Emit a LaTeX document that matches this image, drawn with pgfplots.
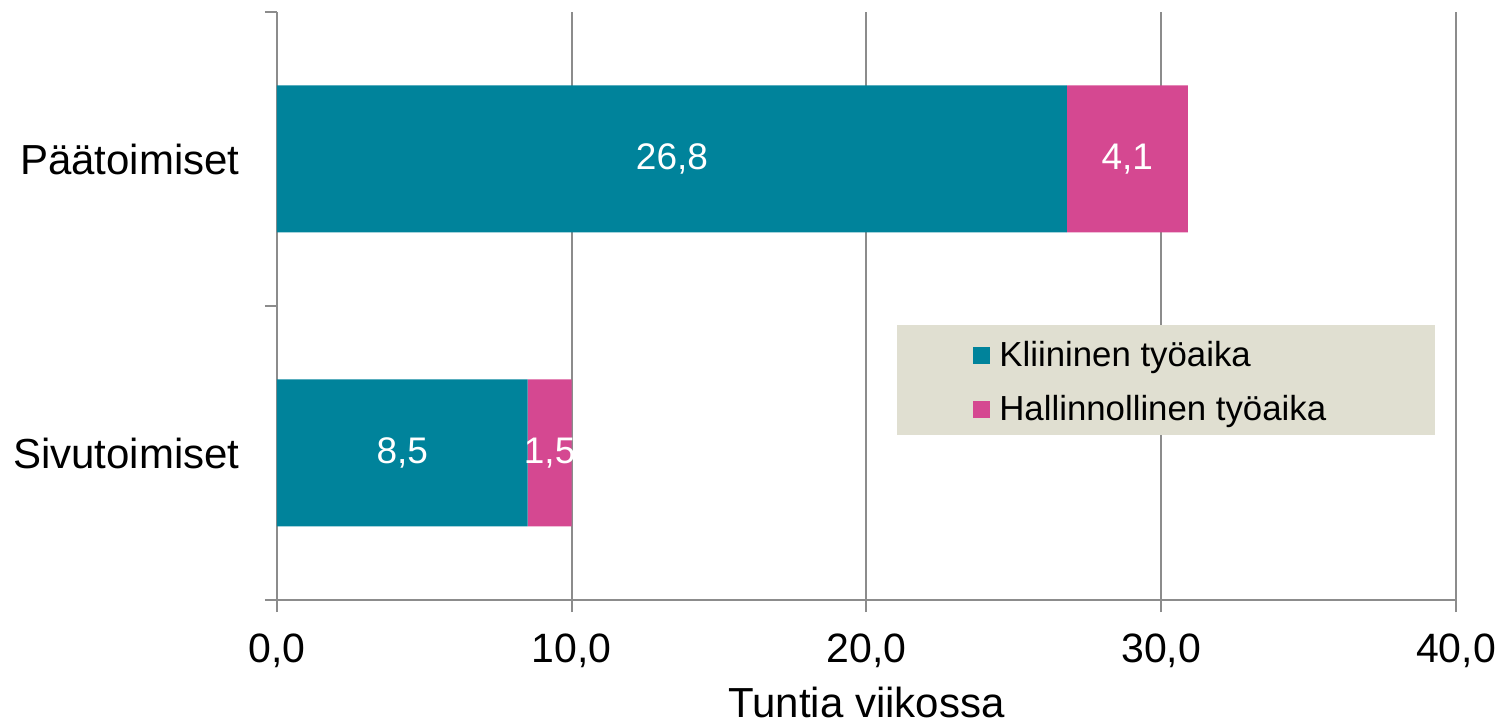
\documentclass[border=0pt]{standalone}
\usepackage{fontspec}
\setmainfont{Liberation Sans}
\usepackage{pgfplots}
\pgfplotsset{compat=1.18}
\usetikzlibrary{calc}
\definecolor{klin}{RGB}{0,131,155}
\definecolor{hall}{RGB}{213,72,145}
\definecolor{legbg}{RGB}{224,223,209}
\definecolor{gridgray}{RGB}{140,140,140}

\pgfplotsset{sqleg/.style={legend image code/.code={\fill[##1] (0bp,-4.25bp) rectangle (8.5bp,4.25bp);}}}

\begin{document}
\begin{tikzpicture}
\begin{axis}[
    name=ax,
    scale only axis,
    width=589.5bp, height=294bp,
    xbar stacked, bar width=0.5,
    xmin=0, xmax=40, ymin=-0.5, ymax=1.5,
    xtick={0,10,20,30,40},
    xticklabel style={yshift=-7.5bp, /pgf/number format/.cd, fixed, fixed zerofill, precision=1, use comma, assume math mode=true},
    xmajorgrids, grid style={gridgray, line width=1bp},
    axis x line*=bottom, axis y line*=left,
    axis line style={gridgray, line width=1bp, -},
    tick style={gridgray, line width=1bp},
    tick align=outside, major tick length=6bp,
    ytick={-0.5,0.5,1.5}, yticklabels={},
    extra y ticks={0,1}, extra y tick labels={Sivutoimiset, Päätoimiset},
    extra y tick style={major tick length=0pt, grid=none},
    tick label style={font=\fontsize{20.5bp}{24bp}\selectfont},
    yticklabel style={anchor=east, inner sep=0pt, xshift=-18.5bp, font=\fontsize{21bp}{24bp}\selectfont},
    xlabel={Tuntia viikossa},
    xlabel style={font=\fontsize{21bp}{24bp}\selectfont, at={(axis description cs:0.5,0)}, anchor=base, yshift=-58.7bp},
    legend style={at={(rel axis cs:0.5903,0.370)}, anchor=west, draw=none, fill=none,
        inner sep=0pt, font=\fontsize{17.4bp}{20bp}\selectfont, row sep=13bp,
        column sep=4.5bp, nodes={inner sep=0pt}},
    legend cell align=left,
]
\addplot[fill=klin, draw=none, sqleg] coordinates {(8.5,0) (26.8,1)};
\addplot[fill=hall, draw=none, sqleg] coordinates {(1.5,0) (4.1,1)};
\legend{Kliininen työaika, Hallinnollinen työaika}
\fill[legbg] (rel axis cs:0.526,0.281) rectangle (rel axis cs:0.982,0.468);
\coordinate (l1) at (axis cs:13.4,1);
\coordinate (l2) at (axis cs:28.85,1);
\coordinate (l3) at (axis cs:4.25,0);
\coordinate (l4) at (axis cs:9.25,0);
\end{axis}
\begin{scope}[every node/.style={white, font=\fontsize{18.5bp}{22bp}\selectfont}]
\node at (l1) {26,8};
\node at (l2) {4,1};
\node at (l3) {8,5};
\node at (l4) {1,5};
\end{scope}
\pgfresetboundingbox
\path[use as bounding box] ($(ax.south west)+(-138.5bp,-62.5bp)$) rectangle ($(ax.south west)+(614.5bp,300bp)$);
\end{tikzpicture}
\end{document}
